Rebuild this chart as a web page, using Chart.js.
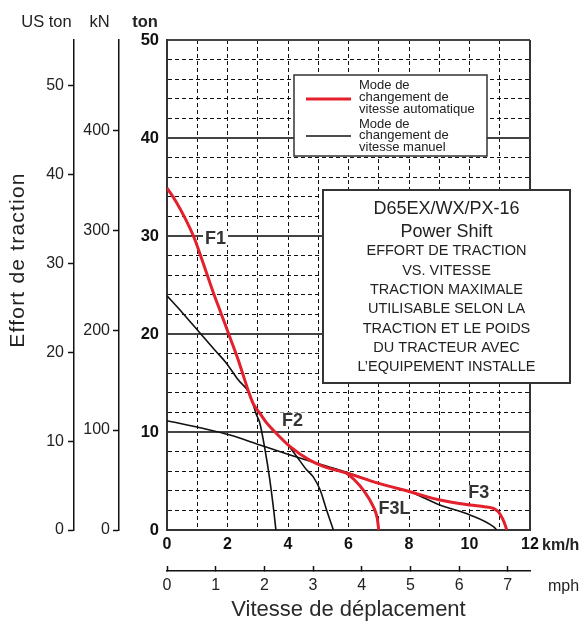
<!DOCTYPE html>
<html>
<head>
<meta charset="utf-8">
<script src="https://cdn.jsdelivr.net/npm/chart.js@4.4.1/dist/chart.umd.min.js"></script>
<style>
  html, body { margin: 0; padding: 0; background: #fff; }
  canvas { display: block; }
</style>
</head>
<body>
<canvas id="effortChart" width="583" height="626"></canvas>
<script>
// mode automatique (rouge) : enveloppe F1 -> F2 -> F3
const autoVitesse = [0, 0.3, 0.6, 0.9, 1.2, 1.5, 1.8, 2.1, 2.35, 2.55, 2.7, 2.85, 3.07, 3.3, 3.57, 4.07, 4.73, 5.17, 5.94, 7.0, 8.03, 9.02, 10.02, 10.5, 10.79, 10.97, 11.1, 11.19, 11.23];
const autoEffort  = [34.9, 33.5, 31.8, 29.8, 27.2, 24.5, 22.0, 19.5, 17.4, 15.5, 14.1, 12.9, 11.9, 10.9, 10.0, 8.5, 7.1, 6.5, 5.8, 4.76, 3.91, 3.06, 2.55, 2.38, 2.2, 1.8, 1.1, 0.4, 0];
// branche F3L automatique
const autoF3LVitesse = [5.94, 6.2, 6.49, 6.82, 6.95, 7.0];
const autoF3LEffort  = [5.8, 5.1, 4.08, 2.38, 1.2, 0];
// mode manuel (noir)
const manF1Vitesse = [0, 0.5, 1.09, 1.6, 1.97, 2.36, 2.69, 2.82, 2.94, 3.07, 3.24, 3.4, 3.54, 3.6];
const manF1Effort  = [23.9, 22.2, 20.1, 18.3, 17.0, 15.3, 14.1, 13.1, 11.9, 10.9, 8.2, 5.1, 1.7, 0];
const manF2Vitesse = [4.0, 4.29, 4.6, 4.84, 5.06, 5.28, 5.5];
const manF2Effort  = [8.7, 7.5, 6.2, 5.4, 4.1, 2.0, 0];
const manF3Vitesse = [0, 1.09, 2.08, 3.07, 4.07, 4.95, 5.94, 7.0, 8.03, 9.02, 10.02, 10.79, 10.9];
const manF3Effort  = [11.15, 10.44, 9.69, 8.67, 7.65, 6.8, 5.9, 4.76, 3.9, 2.55, 1.53, 0.34, 0];

// graduations des axes secondaires
const usTonTicks = [0, 10, 20, 30, 40, 50];
const kNTicks = [0, 100, 200, 300, 400];
const mphTicks = [0, 1, 2, 3, 4, 5, 6, 7];

const rapportLabels = ["F1", "F2", "F3L", "F3"];
const legendeAuto = ["Mode de", "changement de", "vitesse automatique"];
const legendeManuel = ["Mode de", "changement de", "vitesse manuel"];
const encadreTitre = ["D65EX/WX/PX-16", "Power Shift"];
const encadreTexte = ["EFFORT DE TRACTION", "VS. VITESSE", "TRACTION MAXIMALE", "UTILISABLE SELON LA",
  "TRACTION ET LE POIDS", "DU TRACTEUR AVEC", "L\u2019EQUIPEMENT INSTALLE"];

const FONT = "'Liberation Sans', Arial, Helvetica, sans-serif";
const ROUGE = "#e3202b";
const toPts = (xs, ys) => xs.map((x, i) => ({ x: x, y: ys[i] }));
const fixTicks = vals => s => { s.ticks = vals.map(v => ({ value: v })); };

function serie(data, color, width, order) {
  return {
    data: data, xAxisID: "x", yAxisID: "y",
    borderColor: color, borderWidth: width, pointRadius: 0,
    fill: false, cubicInterpolationMode: "monotone", order: order
  };
}

// textes et encadres dessines par dessus la grille
const annotations = {
  id: "annotations",
  beforeDatasetsDraw(chart) {
    const ctx = chart.ctx;
    ctx.save();
    ctx.font = "bold 18px " + FONT;
    ctx.textAlign = "center";
    ctx.textBaseline = "alphabetic";
    const pos = [[215.5, 238], [292.5, 419.5], [394.5, 507.5], [478.8, 492]];
    rapportLabels.forEach((t, i) => {
      const w = ctx.measureText(t).width;
      ctx.fillStyle = "#fff";
      ctx.fillRect(pos[i][0] - w / 2 - 2, pos[i][1] - 7, w + 4, 14);
      ctx.fillStyle = "#333";
      ctx.fillText(t, pos[i][0], pos[i][1] + 6.4);
    });
    ctx.restore();
  },
  afterDraw(chart) {
    const ctx = chart.ctx;
    ctx.save();
    ctx.fillStyle = "#222";
    ctx.textBaseline = "alphabetic";

    // en-tetes des axes
    ctx.textAlign = "center";
    ctx.font = "16.5px " + FONT;
    ctx.fillText("US ton", 46.5, 26.7);
    ctx.fillText("kN", 99.5, 26.7);
    ctx.font = "bold 16.5px " + FONT;
    ctx.fillText("ton", 145, 26.7);
    ctx.textAlign = "left";
    ctx.font = "bold 16px " + FONT;
    ctx.fillText("km/h", 542, 550);
    ctx.font = "16px " + FONT;
    ctx.fillText("mph", 548, 591);

    // titre vertical
    ctx.save();
    ctx.translate(24, 260);
    ctx.rotate(-Math.PI / 2);
    ctx.textAlign = "center";
    ctx.font = "21px " + FONT;
    ctx.letterSpacing = "1.2px";
    ctx.fillText("Effort de traction", 0, 0);
    ctx.restore();

    // legende
    ctx.fillStyle = "#fff";
    ctx.fillRect(294, 75, 193, 81);
    ctx.strokeStyle = "#333";
    ctx.lineWidth = 1.5;
    ctx.strokeRect(294, 75, 193, 81);
    ctx.lineWidth = 3;
    ctx.strokeStyle = ROUGE;
    ctx.beginPath(); ctx.moveTo(306, 99); ctx.lineTo(351, 99); ctx.stroke();
    ctx.lineWidth = 1.5;
    ctx.strokeStyle = "#111";
    ctx.beginPath(); ctx.moveTo(306, 136); ctx.lineTo(351, 136); ctx.stroke();
    ctx.fillStyle = "#222";
    ctx.font = "13px " + FONT;
    ctx.textAlign = "left";
    ctx.textBaseline = "middle";
    legendeAuto.forEach((t, i) => ctx.fillText(t, 359, 85.5 + i * 11.8));
    legendeManuel.forEach((t, i) => ctx.fillText(t, 359, 124 + i * 11.8));

    // encadre
    ctx.fillStyle = "#fff";
    ctx.fillRect(323, 190, 247, 193);
    ctx.strokeStyle = "#333";
    ctx.lineWidth = 2;
    ctx.strokeRect(323, 190, 247, 193);
    ctx.fillStyle = "#222";
    ctx.textAlign = "center";
    ctx.textBaseline = "alphabetic";
    ctx.font = "18px " + FONT;
    ctx.fillText(encadreTitre[0], 446.5, 214.4);
    ctx.fillText(encadreTitre[1], 446.5, 237);
    ctx.font = "14.5px " + FONT;
    encadreTexte.forEach((t, i) => ctx.fillText(t, 446.5, 255.3 + i * 19.3));
    ctx.restore();
  }
};

const ctx = document.getElementById("effortChart").getContext("2d");
new Chart(ctx, {
  type: "line",
  data: {
    datasets: [
      serie(toPts(autoVitesse, autoEffort), ROUGE, 3, 0),
      serie(toPts(autoF3LVitesse, autoF3LEffort), ROUGE, 3, 0),
      serie(toPts(manF1Vitesse, manF1Effort), "#111", 1.6, 1),
      serie(toPts(manF2Vitesse, manF2Effort), "#111", 1.6, 1),
      serie(toPts(manF3Vitesse, manF3Effort), "#111", 1.6, 1)
    ]
  },
  options: {
    responsive: false,
    animation: false,
    devicePixelRatio: 1,
    layout: { padding: { top: 40, right: 53, left: 0, bottom: 0 } },
    plugins: { legend: { display: false }, tooltip: { enabled: false } },
    scales: {
      x: {
        type: "linear", position: "bottom", min: 0, max: 12, weight: 0,
        afterFit: s => { s.height = 41; },
        ticks: {
          stepSize: 1, autoSkip: false, maxRotation: 0, padding: 5, color: "#111",
          font: { family: FONT, size: 16, weight: "bold" },
          callback: v => (v % 2 === 0 ? v : "")
        },
        grid: {
          drawTicks: false,
          color: c => (c.tick && (c.tick.value === 0 || c.tick.value === 12) ? "#333" : "#111"),
          lineWidth: c => (c.tick && (c.tick.value === 0 || c.tick.value === 12) ? 2 : 1)
        },
        border: { color: "#333", width: 2, dash: c => (c.tick && c.tick.value !== 0 && c.tick.value !== 12 ? [4, 3] : []) }
      },
      mph: {
        type: "linear", position: "bottom", min: 0, max: 12 / 1.609344, weight: 1,
        afterFit: s => { s.height = 55; },
        afterBuildTicks: fixTicks(mphTicks),
        ticks: {
          autoSkip: false, maxRotation: 0, padding: 10, color: "#222",
          font: { family: FONT, size: 16 }
        },
        grid: { drawOnChartArea: false, tickLength: -5, tickColor: "#111", tickWidth: 1.5 },
        border: { color: "#111", width: 1.5 },
        title: {
          display: true, text: "Vitesse de d\u00e9placement", color: "#2a2a2a",
          font: { family: FONT, size: 22 }, padding: { top: 0, bottom: 3 }
        }
      },
      usTon: {
        type: "linear", position: "left", min: 0, max: 50 / 0.907185, weight: 3,
        afterFit: s => { s.width = 74; },
        afterBuildTicks: fixTicks(usTonTicks),
        ticks: { autoSkip: false, padding: 4, color: "#222", font: { family: FONT, size: 16 } },
        grid: { drawOnChartArea: false, tickLength: 6, tickColor: "#111", tickWidth: 1.5 },
        border: { color: "#111", width: 1.5 }
      },
      kN: {
        type: "linear", position: "left", min: 0, max: 50 * 9.80665, weight: 2,
        afterFit: s => { s.width = 45; },
        afterBuildTicks: fixTicks(kNTicks),
        ticks: { autoSkip: false, padding: 3, color: "#222", font: { family: FONT, size: 16 } },
        grid: { drawOnChartArea: false, tickLength: 6, tickColor: "#111", tickWidth: 1.5 },
        border: { color: "#111", width: 1.5 }
      },
      y: {
        type: "linear", position: "left", min: 0, max: 50, weight: 1,
        afterFit: s => { s.width = 48; },
        ticks: {
          stepSize: 2, autoSkip: false, padding: 8, color: "#111",
          font: { family: FONT, size: 16.5, weight: "bold" },
          callback: v => (v % 10 === 0 ? v : "")
        },
        grid: {
          drawTicks: false,
          color: c => (c.tick && c.tick.value % 10 === 0 ? "#444" : "#111"),
          lineWidth: c => (c.tick && c.tick.value % 10 === 0 ? 2 : 1)
        },
        border: { color: "#333", width: 2, dash: c => (c.tick && c.tick.value % 10 !== 0 ? [4, 3] : []) }
      }
    }
  },
  plugins: [annotations]
});
</script>
</body>
</html>
